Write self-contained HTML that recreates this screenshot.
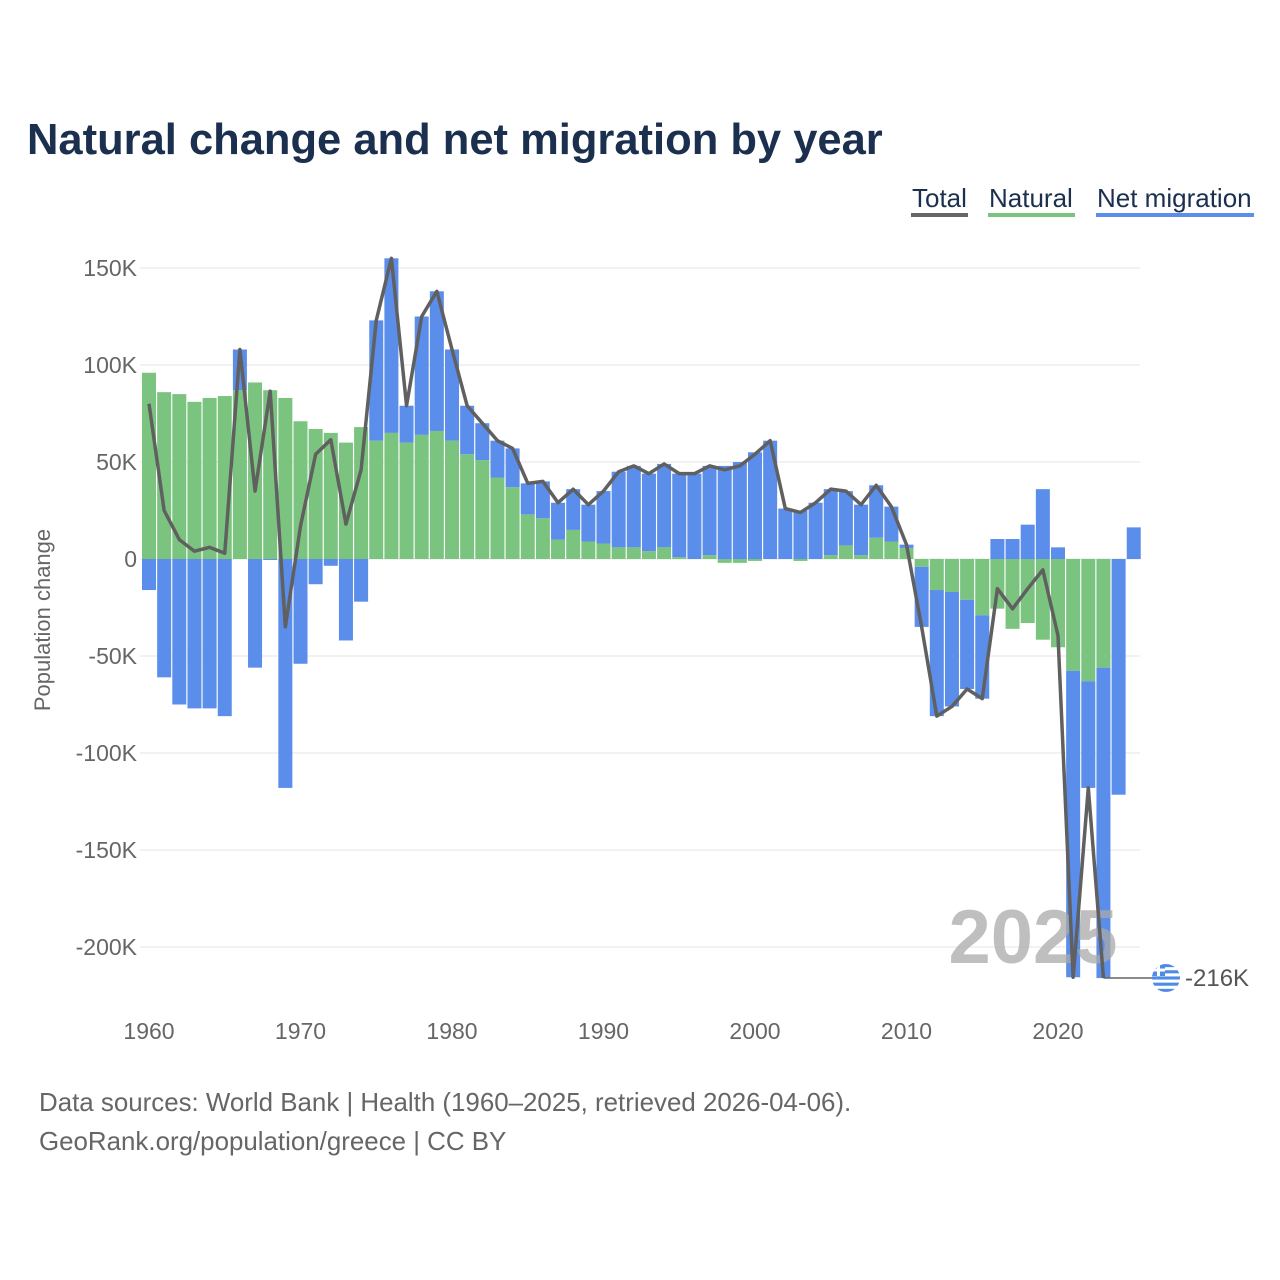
<!DOCTYPE html>
<html><head><meta charset="utf-8"><style>
html,body{margin:0;padding:0;background:#fff;width:1280px;height:1280px;overflow:hidden;font-family:"Liberation Sans",sans-serif}
</style></head><body>
<svg id="chart" width="1280" height="1280" xmlns="http://www.w3.org/2000/svg" font-family="Liberation Sans, sans-serif">
<text x="27" y="154" font-size="43.5" font-weight="bold" fill="#1b2f4f">Natural change and net migration by year</text>
<g font-size="26" fill="#1b2f4f">
<g><text x="912" y="207">Total</text><rect x="911" y="213" width="57" height="4" fill="#666"/></g>
<g><text x="989" y="207">Natural</text><rect x="988" y="213" width="87" height="4" fill="#7bc47f"/></g>
<g><text x="1097" y="207">Net migration</text><rect x="1096" y="213" width="158" height="4" fill="#5b8dea"/></g>
</g>
<g id="grid"></g>
<g id="bars"></g>
<text x="1033" y="963" font-size="76" font-weight="bold" fill="#aaa" fill-opacity="0.75" text-anchor="middle">2025</text>
<g id="line"></g>
<text transform="translate(50,620) rotate(-90)" font-size="22" fill="#666" text-anchor="middle">Population change</text>
<g id="endlabel"></g>
<text x="39" y="1111" font-size="25.9" fill="#666">Data sources: World Bank | Health (1960–2025, retrieved 2026-04-06).</text>
<text x="39" y="1150" font-size="25.9" fill="#666">GeoRank.org/population/greece | CC BY</text>
</svg>
<script>
const years = [];
for (let y = 1960; y <= 2025; y++) years.push(y);
const natural = [96,86,85,81,83,84,87,91,87,83,71,67,65,60,68,61,65,60,64,66,61,54,51,42,37,23,21,10,15,9,8,6,6,4,6,1,0,2,-2,-2,-1,0,0,-1,0,2,7,2,11,9,5.7,-4,-16,-17,-21,-29,-25.6,-36,-33,-41.6,-45.5,-57.6,-63,-56,0,0];
const migration = [-16,-61,-75,-77,-77,-81,21,-56,-0.5,-118,-54,-13,-3.5,-42,-22,62,90,19,61,72,47,25,19,19,20,16,19,19,21,19,27,39,42,40,43,43,44,46,48,50,55,61,26,25,29,34,28,26,27,18,1.7,-31,-65,-59,-46,-43,10.3,10.3,17.7,36,6,-158,-55,-160,-121.5,16.3];
const hasTotal = years.map(y => y <= 2023);
const yTicks = [150,100,50,0,-50,-100,-150,-200];
const yTickLabels = ["150K","100K","50K","0","-50K","-100K","-150K","-200K"];
const xTicks = [1960,1970,1980,1990,2000,2010,2020];

const NS = "http://www.w3.org/2000/svg";
const X = yr => 149 + (yr - 1960) * 15.15;
const Y = v => 559 - v * 1.94;
function mk(tag, attrs, parent) {
  const e = document.createElementNS(NS, tag);
  for (const k in attrs) e.setAttribute(k, attrs[k]);
  parent.appendChild(e);
  return e;
}
const grid = document.getElementById('grid');
yTicks.forEach((t, i) => {
  const gl = mk('line', {x1:140, x2:1140, y1:Y(t), y2:Y(t), stroke:'#e6e6e6', 'stroke-width':1}, grid);
  
  
  const tx = mk('text', {x:137, y:Y(t)+8, 'font-size':23, fill:'#666', 'text-anchor':'end'}, grid);
  tx.textContent = yTickLabels[i];
  
  
});
xTicks.forEach(t => {
  const tx = mk('text', {x:X(t), y:1039, 'font-size':23, fill:'#666', 'text-anchor':'middle'}, grid);
  tx.textContent = t;
  
  
});
const bars = document.getElementById('bars');
const bw = 14;
years.forEach((yr, i) => {
  const n = natural[i], m = migration[i];
  let pos = 0, neg = 0;
  [[n,'#7bc47f','bar-natural'],[m,'#5b8dea','bar-migration']].forEach(([v,c,name]) => {
    if (v === 0) return;
    let y0, y1;
    if (v > 0) { y0 = pos; y1 = pos + v; pos = y1; } else { y0 = neg; y1 = neg + v; neg = y1; }
    const r = mk('rect', {x:X(yr)-bw/2, y:Math.min(Y(y0),Y(y1)), width:bw, height:Math.abs(Y(y0)-Y(y1)), fill:c}, bars);
    
    
  });
});
const pts = [];
years.forEach((yr, i) => { if (hasTotal[i]) pts.push([X(yr), Y(natural[i] + migration[i])]); });
const pl = mk('polyline', {points: pts.map(p => p.join(',')).join(' '), fill:'none', stroke:'#606060', 'stroke-width':3.5, 'stroke-linejoin':'round'}, document.getElementById('line'));


const last = pts[pts.length-1];
const el = document.getElementById('endlabel');
const cl = mk('line', {x1:last[0], x2:1152, y1:last[1], y2:last[1], stroke:'#666', 'stroke-width':1.5}, el);


const fg = mk('g', {}, el);


const cy = last[1];
mk('clipPath', {id:'fc'}, fg).appendChild(document.createElementNS(NS,'circle'));
const cc = fg.querySelector('clipPath circle'); cc.setAttribute('cx',1166); cc.setAttribute('cy',cy); cc.setAttribute('r',14);
const fl = mk('g', {'clip-path':'url(#fc)'}, fg);
mk('rect', {x:1152, y:cy-14, width:28, height:28, fill:'#fff'}, fl);
for (let k = 0; k < 5; k++) mk('rect', {x:1152, y:cy-14+k*6.2, width:28, height:3.1, fill:'#4d8be6'}, fl);
mk('rect', {x:1152, y:cy-14, width:13, height:12, fill:'#4d8be6'}, fl);
mk('rect', {x:1157, y:cy-14, width:3, height:12, fill:'#fff'}, fl);
mk('rect', {x:1152, y:cy-9.5, width:13, height:3, fill:'#fff'}, fl);
const lt = mk('text', {x:1185, y:cy+8, 'font-size':24, fill:'#555'}, el);
lt.textContent = '-216K';


</script>
</body></html>
